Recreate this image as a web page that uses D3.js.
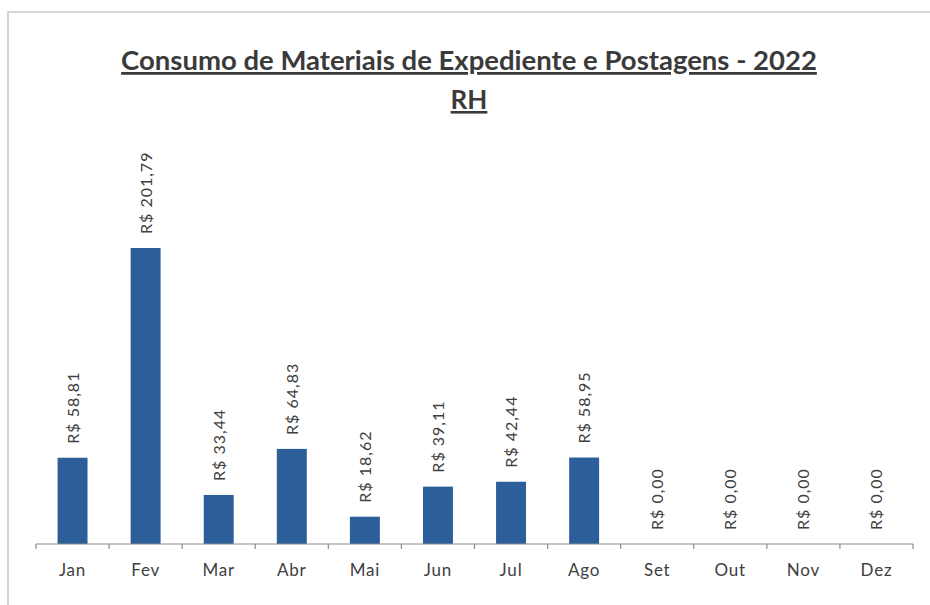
<!DOCTYPE html>
<meta charset="utf-8">
<style>
body { margin: 0; background: #fff; }
text { font-family: Lato, "Open Sans", sans-serif; }
</style>
<svg id="chart" width="930" height="605"></svg>
<script src="https://cdn.jsdelivr.net/npm/d3@7"></script>
<script>
var months = ["Jan", "Fev", "Mar", "Abr", "Mai", "Jun", "Jul", "Ago", "Set", "Out", "Nov", "Dez"];
var values = [58.81, 201.79, 33.44, 64.83, 18.62, 39.11, 42.44, 58.95, 0, 0, 0, 0];
var title = "Consumo de Materiais de Expediente e Postagens - 2022";
var subtitle = "RH";

var svg = d3.select("#chart");

// frame (only top and left show in the photo)
svg.append("path")
    .attr("d", "M8,605V12H930")
    .attr("fill", "none")
    .attr("stroke", "#c8c8c8")
    .attr("stroke-width", 1.5);

var x = d3.scaleBand()
    .domain(months)
    .range([36, 913])
    .paddingInner(0.59)
    .paddingOuter(0.295);

var y = d3.scaleLinear()
    .domain([0, 201.79])
    .range([544, 248]);

var fmt = function(v) {
  return "R$ " + d3.format(".2f")(v).replace(".", ",");
};

svg.append("g")
  .selectAll("rect")
  .data(values)
  .join("rect")
    .attr("x", function(d, i) { return x(months[i]); })
    .attr("y", function(d) { return y(d); })
    .attr("width", x.bandwidth())
    .attr("height", function(d) { return y(0) - y(d); })
    .attr("fill", "#2c5e99");

// axis with ticks between the categories
var edges = d3.range(months.length + 1).map(function(i) {
  return 36 + i * (913 - 36) / months.length;
});
var ax = svg.append("g");
ax.append("line")
    .attr("x1", 36).attr("x2", 913)
    .attr("y1", y(0)).attr("y2", y(0))
    .attr("stroke", "#8c8c8c").attr("stroke-width", 1.2);
ax.selectAll("line.tick")
  .data(edges)
  .join("line")
    .attr("class", "tick")
    .attr("x1", function(d) { return d; })
    .attr("x2", function(d) { return d; })
    .attr("y1", y(0)).attr("y2", y(0) + 5)
    .attr("stroke", "#8c8c8c").attr("stroke-width", 1.2);
ax.selectAll("text")
  .data(months)
  .join("text")
    .attr("x", function(d) { return x(d) + x.bandwidth() / 2; })
    .attr("y", y(0) + 32)
    .attr("text-anchor", "middle")
    .attr("font-size", 17)
    .attr("letter-spacing", 0.8)
    .attr("fill", "#404040")
    .text(function(d) { return d; });

// value labels, rotated
svg.append("g")
  .selectAll("text")
  .data(values)
  .join("text")
    .attr("transform", function(d, i) {
      return "translate(" + (x(months[i]) + x.bandwidth() / 2 + 6) + "," + (y(d) - 14) + ") rotate(-90)";
    })
    .attr("font-size", 16)
    .attr("letter-spacing", 1)
    .attr("fill", "#404040")
    .text(function(d) { return fmt(d); });

svg.append("text")
    .attr("x", 469).attr("y", 70)
    .attr("text-anchor", "middle")
    .attr("font-size", 27.5)
    .attr("font-weight", "bold")
    .attr("text-decoration", "underline")
    .attr("fill", "#3a3a3a")
    .text(title);
svg.append("text")
    .attr("x", 469).attr("y", 109)
    .attr("text-anchor", "middle")
    .attr("font-size", 26)
    .attr("font-weight", "bold")
    .attr("text-decoration", "underline")
    .attr("fill", "#3a3a3a")
    .text(subtitle);
</script>
